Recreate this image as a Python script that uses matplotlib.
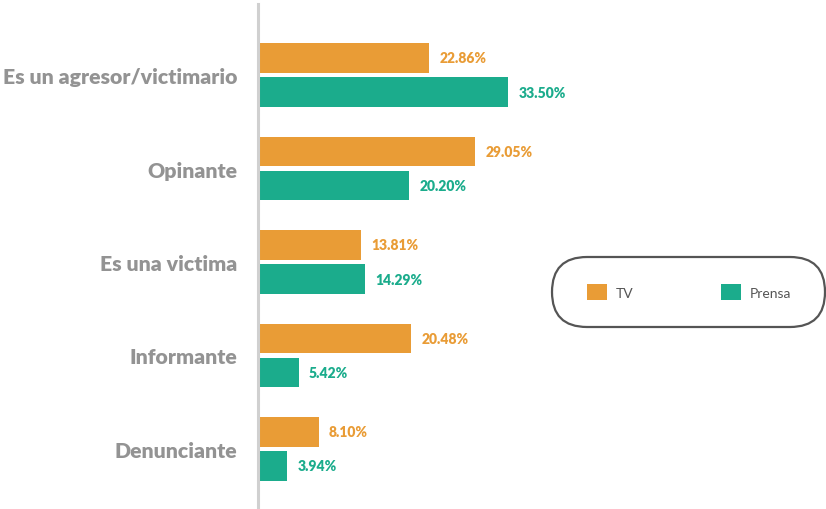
import numpy as np
import matplotlib.pyplot as plt
from matplotlib.patches import FancyBboxPatch, Patch

categories = ["Es un agresor/victimario", "Opinante", "Es una victima",
              "Informante", "Denunciante"]
tv = [22.86, 29.05, 13.81, 20.48, 8.10]
prensa = [33.50, 20.20, 14.29, 5.42, 3.94]

TV_COLOR = "#E99C36"
PRENSA_COLOR = "#1BAC8C"
LABEL_GRAY = "#939393"

plt.rcParams['font.family'] = ['Lato', 'DejaVu Sans']

fig = plt.figure(figsize=(8.26, 5.10), dpi=100)
ax = fig.add_axes([258 / 826, 0, 568 / 826, 1])

y = np.arange(len(categories))
h = 0.32
off = 0.182

bars_tv = ax.barh(y - off, tv, height=h, color=TV_COLOR)
bars_pr = ax.barh(y + off, prensa, height=h, color=PRENSA_COLOR)

ax.bar_label(bars_tv, labels=[f"{v:.2f}%" for v in tv], padding=7.5,
             color=TV_COLOR, fontsize=10, fontweight='heavy')
ax.bar_label(bars_pr, labels=[f"{v:.2f}%" for v in prensa], padding=7.5,
             color=PRENSA_COLOR, fontsize=10, fontweight='heavy')

ax.set_xlim(0, 76)
ax.set_ylim(4.642, -0.813)

ax.set_yticks(y)
ax.set_yticklabels(categories, fontsize=15.3, fontweight='heavy', color=LABEL_GRAY)
ax.tick_params(axis='y', length=0, pad=15)
ax.set_xticks([])

for s in ['top', 'right', 'bottom']:
    ax.spines[s].set_visible(False)
ax.spines['left'].set_color('#d0d0d0')
ax.spines['left'].set_linewidth(2.2)
ax.spines['left'].set_bounds(4.642, -0.76)
ax.set_facecolor('none')

# legend box (pill shape) drawn in pixel space
over = fig.add_axes([0, 0, 1, 1], zorder=-1)
over.set_xlim(0, 826)
over.set_ylim(510, 0)
over.axis('off')
over.add_patch(FancyBboxPatch((552, 258), 273, 70,
                              boxstyle="round,pad=0,rounding_size=35",
                              facecolor='white', edgecolor='#555555',
                              linewidth=1.6))

handles = [Patch(facecolor=TV_COLOR, label='TV'),
           Patch(facecolor=PRENSA_COLOR, label='Prensa')]
fig.legend(handles=handles, loc='center', bbox_to_anchor=(689 / 826, 1 - 293 / 510),
           ncol=2, frameon=False, fontsize=10, labelcolor='#555555',
           handlelength=1.45, handleheight=1.5, handletextpad=0.65,
           columnspacing=6.3)

fig.savefig("out.png", dpi=100)
